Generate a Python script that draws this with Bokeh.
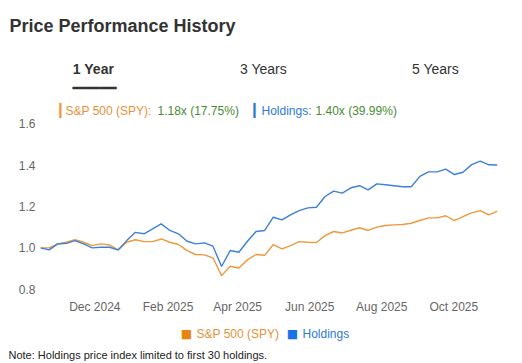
import pandas as pd
from bokeh.plotting import figure
from bokeh.models import (Range1d, Label, MonthsTicker, DatetimeTickFormatter,
                          CustomJSTickFormatter)
from bokeh.embed import file_html
from bokeh.resources import INLINE

# ---- data ----
start_date = "2024-10-16"
end_date = "2025-11-07"
n_points = 54
spy = [1.000, 1.000, 1.019, 1.027, 1.039, 1.027, 1.011, 1.019, 1.014, 0.990,
       1.027, 1.039, 1.030, 1.030, 1.043, 1.027, 1.016, 0.987, 0.968, 0.966,
       0.952, 0.866, 0.911, 0.903, 0.942, 0.968, 0.964, 1.016, 0.995, 1.011,
       1.030, 1.027, 1.026, 1.059, 1.079, 1.072, 1.085, 1.097, 1.084, 1.100,
       1.108, 1.111, 1.113, 1.119, 1.132, 1.145, 1.145, 1.155, 1.132, 1.151,
       1.169, 1.180, 1.159, 1.1775]
holdings = [1.000, 0.990, 1.019, 1.022, 1.035, 1.019, 1.000, 1.003, 1.003, 0.990,
            1.035, 1.075, 1.068, 1.092, 1.116, 1.084, 1.068, 1.032, 1.019, 1.024,
            1.008, 0.910, 0.987, 0.979, 1.032, 1.079, 1.084, 1.148, 1.135, 1.159,
            1.180, 1.193, 1.196, 1.248, 1.274, 1.264, 1.290, 1.300, 1.280, 1.309,
            1.305, 1.300, 1.295, 1.295, 1.345, 1.367, 1.367, 1.380, 1.354, 1.365,
            1.402, 1.419, 1.401, 1.3999]
dates = pd.date_range(start_date, end_date, periods=n_points)
y_ticks = [0.8, 1.0, 1.2, 1.4, 1.6]
tick_months = [1, 3, 5, 7, 9, 11]  # 0-based: Feb, Apr, Jun, Aug, Oct, Dec

title_text = "Price Performance History"
tabs = ["1 Year", "3 Years", "5 Years"]
spy_name = "S&P 500 (SPY)"
hold_name = "Holdings"
spy_summary = "1.18x (17.75%)"
hold_summary = "1.40x (39.99%)"
note_text = "Note: Holdings price index limited to first 30 holdings."

ORANGE = "#EC9A3C"
BLUE = "#3C80D8"
GREEN = "#4A8B35"
ORANGE_TXT = "#E69138"
BLUE_TXT = "#2B7BD8"
FONT = "Liberation Sans"
W = 522
H_TOP, H_CHART, H_BOT = 118, 200, 45


def text_panel(h):
    f = figure(width=W, height=h, output_backend="svg", toolbar_location=None,
               x_range=Range1d(0, W), y_range=Range1d(h, 0),
               x_axis_location=None, y_axis_location=None, min_border=0)
    f.outline_line_color = None
    f.grid.visible = False
    return f


def lab(f, x, y, text, color="#333333", size="12px", style="normal",
        font=FONT, align="left", baseline="middle"):
    f.add_layout(Label(x=x, y=y, text=text, text_color=color, text_font_size=size,
                       text_font_style=style, text_font=font, text_align=align,
                       text_baseline=baseline))


# ---- top: title, tabs, summary header ----
top = text_panel(H_TOP)
lab(top, 9, 25, title_text, size="18px", style="bold")
lab(top, 93, 68, tabs[0], size="14px", style="bold", align="center")
lab(top, 263, 68, tabs[1], size="14px", align="center")
lab(top, 435, 68, tabs[2], size="14px", align="center")
lab(top, 94, 87, "\u2501" * 5, color="#333333", size="14.6px",
    font="DejaVu Sans Mono", align="center")
lab(top, 60, 110, "\u2503", color=ORANGE, size="14px", font="DejaVu Sans Mono",
    align="center")
lab(top, 65, 110, spy_name + ":", color=ORANGE_TXT)
lab(top, 157, 110, spy_summary, color=GREEN)
lab(top, 254, 110, "\u2503", color="#2B78D0", size="14px", font="DejaVu Sans Mono",
    align="center")
lab(top, 261, 110, hold_name + ":", color=BLUE_TXT)
lab(top, 315, 110, hold_summary, color=GREEN)

# ---- chart ----
p = figure(width=W, height=H_CHART, output_backend="svg", toolbar_location=None,
           x_axis_type="datetime",
           x_range=Range1d(dates[0], dates[-1]), y_range=Range1d(0.770, 1.6246),
           min_border_left=40, min_border_right=25, min_border_top=0,
           min_border_bottom=23)
p.outline_line_color = None
p.grid.visible = False

for ax in (p.xaxis[0], p.yaxis[0]):
    ax.axis_line_color = None
    ax.major_tick_line_color = None
    ax.minor_tick_line_color = None
    ax.major_tick_out = 0
    ax.major_tick_in = 0
    ax.minor_tick_out = 0
    ax.minor_tick_in = 0
    ax.major_label_text_color = "#666666"
    ax.major_label_text_font = FONT
    ax.major_label_text_font_size = "12px"
p.yaxis.ticker = y_ticks
p.yaxis.formatter = CustomJSTickFormatter(code="return tick.toFixed(1)")
p.yaxis.major_label_standoff = 5
p.xaxis.ticker = MonthsTicker(months=tick_months)
p.xaxis.formatter = DatetimeTickFormatter(months="%b %Y", days="%b %Y")
p.xaxis.major_label_standoff = 4

p.line(dates, spy, line_color=ORANGE, line_width=1.4)
p.line(dates, holdings, line_color=BLUE, line_width=1.4)

# ---- bottom: legend and note ----
bot = text_panel(H_BOT)
lab(bot, 186, 15, "\u25A0", color="#E8850C", size="12px", font="DejaVu Sans",
    align="center")
lab(bot, 196, 15, spy_name, color=ORANGE_TXT)
lab(bot, 292, 15, "\u25A0", color="#1C73E8", size="12px", font="DejaVu Sans",
    align="center")
lab(bot, 302, 15, hold_name, color=BLUE_TXT)
lab(bot, 8, 36, note_text, color="#222222", size="11px")

open("out.html", "w").write(file_html([top, p, bot], INLINE))
